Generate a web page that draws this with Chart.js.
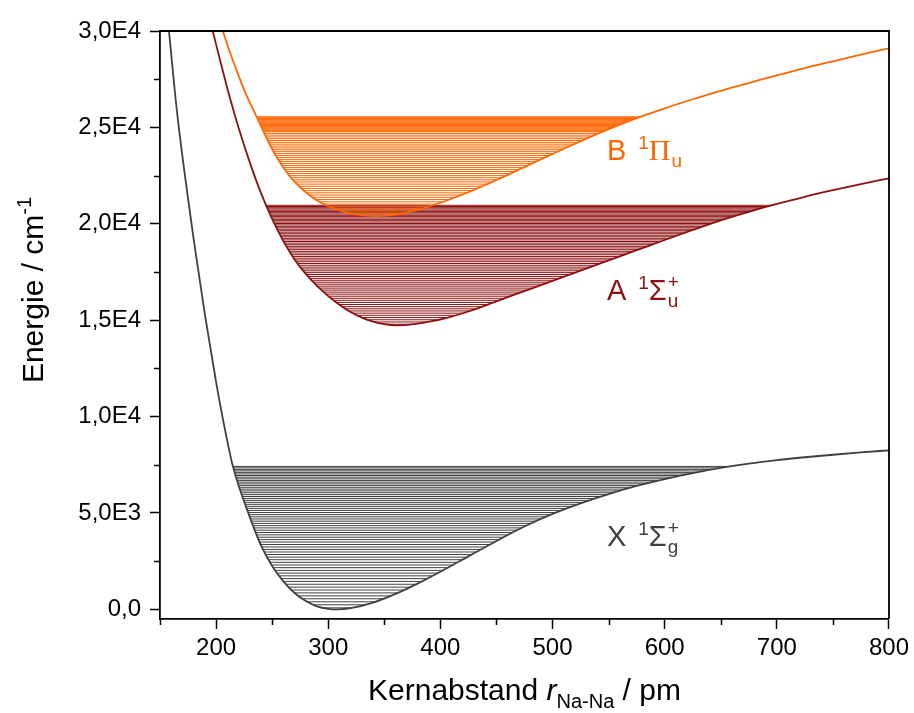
<!DOCTYPE html>
<html>
<head>
<meta charset="utf-8">
<script src="https://cdn.jsdelivr.net/npm/chart.js@4"></script>
<style>
  html, body { margin: 0; padding: 0; background: #fff; }
  #wrap { width: 914px; height: 713px; }
</style>
</head>
<body>
<div id="wrap"><canvas id="chart" width="914" height="713"></canvas></div>
<script>
// Potentialkurven Na2 (r in pm, E in cm^-1)
const xStateR = [158, 165, 175, 180, 190, 200, 207, 215, 230, 241, 250, 260, 270, 280, 290, 300, 308,
  320, 340, 360, 380, 400, 425, 450, 475, 500, 525, 550, 575, 600, 625, 650, 675, 700, 725, 750, 775, 800];
const xStateE = [30000, 25900, 21300, 19200, 15300, 11800, 9600, 7420, 4800, 3200, 2250, 1450, 850, 430, 160, 30, 0,
  60, 350, 800, 1350, 1950, 2750, 3550, 4300, 4950, 5500, 5980, 6400, 6760, 7070, 7340, 7560, 7740, 7890, 8020, 8140, 8250];

const aStateR = [197, 207, 212, 220, 230, 240, 250, 260, 270, 280, 290, 300, 310, 320, 330, 340, 350, 361,
  375, 390, 405, 420, 435, 450, 475, 500, 525, 550, 575, 600, 625, 650, 675, 700, 725, 750, 775, 800];
const aStateE = [30000, 27700, 26600, 25000, 23200, 21600, 20250, 19100, 18150, 17400, 16780, 16250, 15800, 15420, 15130, 14920, 14790, 14730,
  14780, 14920, 15110, 15360, 15650, 15980, 16510, 17040, 17570, 18100, 18630, 19160, 19680, 20180, 20620, 21030, 21400, 21740, 22060, 22360];

const bStateR = [206, 212, 218, 225, 236, 245, 254, 265, 275, 285, 298, 310, 325, 343,
  360, 380, 400, 420, 440, 460, 480, 500, 520, 540, 560, 580, 600, 625, 650, 675, 700, 725, 750, 775, 800];
const bStateE = [30000, 28950, 28000, 26950, 25570, 24450, 23460, 22520, 21890, 21400, 20960, 20700, 20490, 20400,
  20470, 20720, 21090, 21520, 22010, 22540, 23080, 23620, 24150, 24660, 25140, 25580, 25990, 26460, 26900, 27300, 27700, 28080, 28430, 28770, 29100];

// Schwingungsniveaus (cm^-1), geschaetzt aus den Linien der Vorlage
const xLevels = [80, 237, 393, 548, 701, 854, 1004, 1154, 1302, 1449, 1594, 1738, 1881, 2022, 2163, 2302,
  2439, 2575, 2710, 2844, 2976, 3107, 3237, 3365, 3492, 3618, 3742, 3865, 3987, 4107, 4226, 4344,
  4460, 4575, 4689, 4802, 4913, 5022, 5131, 5238, 5344, 5449, 5552, 5654, 5754, 5854, 5951, 6048,
  6143, 6237, 6330, 6421, 6511, 6600, 6687, 6774, 6858, 6942, 7024, 7105, 7184, 7262, 7339, 7414];
const aLevels = [14790, 14907, 15022, 15137, 15252, 15365, 15478, 15589, 15700, 15811, 15920, 16029, 16136, 16243,
  16350, 16455, 16560, 16663, 16766, 16869, 16970, 17071, 17170, 17269, 17368, 17465, 17562, 17657,
  17752, 17847, 17940, 18033, 18124, 18215, 18306, 18395, 18484, 18571, 18658, 18745, 18830, 18915,
  18998, 19081, 19164, 19245, 19326, 19405, 19484, 19563, 19640, 19717, 19792, 19867, 19942, 20015,
  20088, 20159, 20230, 20301, 20370, 20439, 20506, 20573, 20640, 20705, 20770, 20833, 20896, 20959];
const bLevels = [20540, 20662, 20782, 20902, 21022, 21140, 21258, 21374, 21490, 21606, 21720, 21834, 21946, 22058,
  22170, 22280, 22390, 22498, 22606, 22714, 22820, 22926, 23030, 23134, 23238, 23340, 23442, 23542,
  23642, 23742, 23840, 23938, 24034, 24130, 24226, 24320, 24414, 24506, 24598, 24690, 24780,
  24830, 24875, 24920, 24965, 25010, 25055, 25100, 25145, 25190, 25235, 25280, 25325, 25370, 25415, 25460, 25505, 25550];

// Achsen
const xTicks = [200, 300, 400, 500, 600, 700, 800];
const xMinorTicks = [150, 250, 350, 450, 550, 650, 750];
const yTicks = [0, 5000, 10000, 15000, 20000, 25000, 30000];
const yTickLabels = ['0,0', '5,0E3', '1,0E4', '1,5E4', '2,0E4', '2,5E4', '3,0E4'];
const yMinorTicks = [2500, 7500, 12500, 17500, 22500, 27500];

const COL_X = '#404040';
const COL_A = '#8c1010';
const COL_B = '#ff6600';
const FONT = '"Liberation Sans", Arial, sans-serif';

// Kurve als Punktliste
function curve(rs, es) {
  return rs.map((r, i) => ({ x: r, y: es[i] }));
}

// Umkehrpunkte: wo das Niveau die Kurve schneidet
function turningPoints(rs, es, e) {
  const iMin = es.indexOf(Math.min(...es));
  let left = null, right = null;
  for (let i = iMin; i > 0; i--) {
    if (es[i - 1] >= e && es[i] <= e) {
      left = rs[i - 1] + (rs[i] - rs[i - 1]) * (es[i - 1] - e) / (es[i - 1] - es[i]);
      break;
    }
  }
  for (let i = iMin; i < rs.length - 1; i++) {
    if (es[i] <= e && es[i + 1] >= e) {
      right = rs[i] + (rs[i + 1] - rs[i]) * (e - es[i]) / (es[i + 1] - es[i]);
      break;
    }
  }
  return [left, right];
}

function levelData(rs, es, levels) {
  const pts = [];
  levels.forEach(e => {
    const [l, r] = turningPoints(rs, es, e);
    if (l === null || r === null) return;
    pts.push({ x: l, y: e }, { x: r, y: e }, { x: r, y: null });
  });
  return pts;
}

const decorPlugin = {
  id: 'decor',
  afterDraw(chart) {
    const ctx = chart.ctx;
    const ca = chart.chartArea;
    const xs = chart.scales.x, ys = chart.scales.y;

    // Rahmen oben/rechts
    ctx.save();
    ctx.strokeStyle = '#000';
    ctx.lineWidth = 1.8;
    ctx.beginPath();
    ctx.moveTo(ca.left, ca.top);
    ctx.lineTo(ca.right, ca.top);
    ctx.lineTo(ca.right, ca.bottom);
    ctx.stroke();

    // Nebenstriche
    ctx.lineWidth = 1.5;
    ctx.beginPath();
    xMinorTicks.forEach(v => {
      const p = Math.round(xs.getPixelForValue(v)) + 0.5;
      ctx.moveTo(p, ca.bottom);
      ctx.lineTo(p, ca.bottom + 6);
    });
    yMinorTicks.forEach(v => {
      const p = Math.round(ys.getPixelForValue(v)) + 0.5;
      ctx.moveTo(ca.left, p);
      ctx.lineTo(ca.left - 6, p);
    });
    ctx.stroke();
    ctx.restore();

    // Achsentitel
    const big = '30px ' + FONT;
    const small = '20px ' + FONT;
    ctx.save();
    ctx.fillStyle = '#000';
    ctx.textBaseline = 'alphabetic';
    const t1 = 'Kernabstand ';
    const t2 = 'r';
    const t3 = 'Na-Na';
    const t4 = ' / pm';
    ctx.font = big; const w1 = ctx.measureText(t1).width;
    ctx.font = 'italic ' + big; const w2 = ctx.measureText(t2).width;
    ctx.font = small; const w3 = ctx.measureText(t3).width;
    ctx.font = big; const w4 = ctx.measureText(t4).width;
    let tx = (ca.left + ca.right) / 2 - (w1 + w2 + w3 + w4) / 2;
    const ty = 700;
    ctx.font = big; ctx.fillText(t1, tx, ty); tx += w1;
    ctx.font = 'italic ' + big; ctx.fillText(t2, tx, ty); tx += w2;
    ctx.font = small; ctx.fillText(t3, tx, ty + 8); tx += w3;
    ctx.font = big; ctx.fillText(t4, tx, ty);

    ctx.translate(43, 290);
    ctx.rotate(-Math.PI / 2);
    const s1 = 'Energie / cm';
    const s2 = '-1';
    ctx.font = big; const v1 = ctx.measureText(s1).width;
    ctx.font = small; const v2 = ctx.measureText(s2).width;
    let sx = -(v1 + v2) / 2;
    ctx.font = big; ctx.fillText(s1, sx, 0); sx += v1;
    ctx.font = small; ctx.fillText(s2, sx, -12);
    ctx.restore();

    // Zustandsbezeichnungen
    const lab = '29px ' + FONT;
    const sup = '19px ' + FONT;
    const labels = [
      { r: 548.5, e: 23290, name: 'B', sym: 'Π', symFont: '30px "Liberation Serif", serif', top: null, sub: 'u', color: COL_B },
      { r: 548.5, e: 16030, name: 'A', sym: 'Σ', symFont: lab, top: '+', sub: 'u', color: COL_A },
      { r: 548.5, e: 3270, name: 'X', sym: 'Σ', symFont: lab, top: '+', sub: 'g', color: COL_X }
    ];
    labels.forEach(L => {
      const lx = xs.getPixelForValue(L.r);
      const ly = ys.getPixelForValue(L.e);
      ctx.save();
      ctx.fillStyle = L.color;
      ctx.textBaseline = 'alphabetic';
      let cx = lx;
      ctx.font = lab; ctx.fillText(L.name, cx, ly); cx += ctx.measureText(L.name).width + 12;
      ctx.font = sup; ctx.fillText('1', cx, ly - 11); cx += ctx.measureText('1').width;
      ctx.font = L.symFont; ctx.fillText(L.sym, cx, ly); cx += ctx.measureText(L.sym).width + 1;
      ctx.font = sup;
      if (L.top) ctx.fillText(L.top, cx, ly - 12);
      ctx.fillText(L.sub, cx, ly + 7);
      ctx.restore();
    });
  }
};

const datasets = [
  // oben liegend zuerst
  { data: curve(bStateR, bStateE), borderColor: COL_B, borderWidth: 1.8, cubicInterpolationMode: 'monotone' },
  { data: levelData(bStateR, bStateE, bLevels), borderColor: COL_B, borderWidth: 1, tension: 0, spanGaps: false },
  { data: curve(aStateR, aStateE), borderColor: COL_A, borderWidth: 1.8, cubicInterpolationMode: 'monotone' },
  { data: levelData(aStateR, aStateE, aLevels), borderColor: COL_A, borderWidth: 1, tension: 0, spanGaps: false },
  { data: curve(xStateR, xStateE), borderColor: COL_X, borderWidth: 1.8, cubicInterpolationMode: 'monotone' },
  { data: levelData(xStateR, xStateE, xLevels), borderColor: COL_X, borderWidth: 1, tension: 0, spanGaps: false }
];
datasets.forEach(d => { d.pointRadius = 0; d.fill = false; });

new Chart(document.getElementById('chart'), {
  type: 'line',
  data: { datasets },
  options: {
    responsive: false,
    devicePixelRatio: 1,
    animation: false,
    events: [],
    layout: { padding: { left: 0, right: 24, top: 31, bottom: 0 } },
    plugins: { legend: { display: false }, tooltip: { enabled: false } },
    scales: {
      x: {
        type: 'linear',
        min: 150,
        max: 800,
        afterBuildTicks: s => { s.ticks = xTicks.map(v => ({ value: v })); },
        afterFit: s => { s.height = 94; },
        grid: { drawOnChartArea: false, drawTicks: true, tickLength: 10, tickWidth: 1.5, tickColor: '#000' },
        border: { display: true, color: '#000', width: 1.8 },
        ticks: { color: '#000', font: { family: FONT, size: 24 }, padding: 5, maxRotation: 0 }
      },
      y: {
        type: 'linear',
        min: -500,
        max: 30000,
        afterBuildTicks: s => { s.ticks = yTicks.map(v => ({ value: v })); },
        afterFit: s => { s.width = 160; },
        grid: { drawOnChartArea: false, drawTicks: true, tickLength: 10, tickWidth: 1.5, tickColor: '#000' },
        border: { display: true, color: '#000', width: 1.8 },
        ticks: {
          color: '#000', font: { family: FONT, size: 24 }, padding: 9,
          callback: v => yTickLabels[yTicks.indexOf(v)]
        }
      }
    }
  },
  plugins: [decorPlugin]
});
</script>
</body>
</html>
